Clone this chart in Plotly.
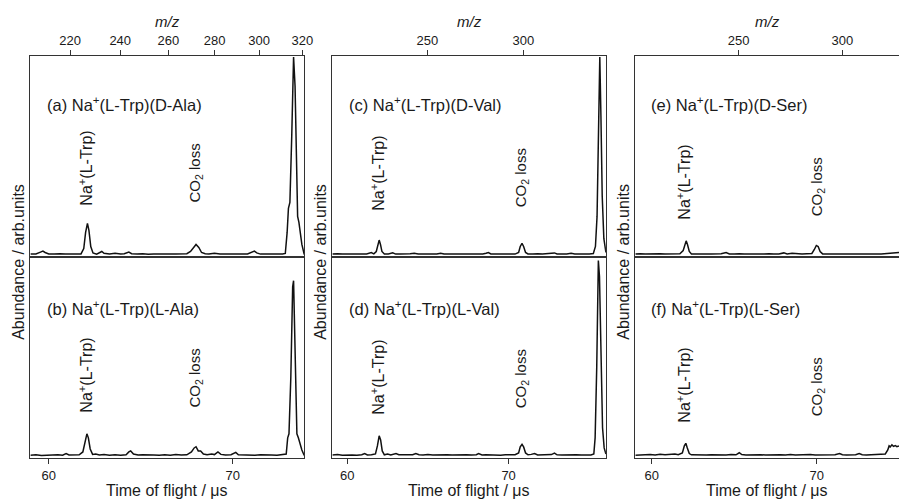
import plotly.graph_objects as go

# ---------------- data ----------------
# time-of-flight ranges (μs) of the three columns
t_ranges = [[59.0, 73.88], [59.08, 76.03], [59.0, 74.98]]
time_ticks = [60, 70]
# m/z tick labels of the top axes
mz_ticks_col1 = [220, 240, 260, 280, 300, 320]
mz_ticks_col2 = [250, 300]
mz_ticks_col3 = [250, 300]
# calibration t = a*sqrt(m/z) + b for each column
calib_a = [4.128, 3.94, 4.16]
calib_b = [-0.07, 2.67, -0.51]

a_t = [59.0, 59.3, 59.55, 59.68, 59.8, 60.0, 60.3, 60.6, 60.9, 61.2, 61.5, 61.75, 61.9, 62.0, 62.1, 62.18,
       62.28, 62.4, 62.6, 62.88, 63.0, 63.3, 63.6, 63.9, 64.1, 64.35, 64.5, 64.8, 65.1, 65.4, 65.7, 66.0,
       66.3, 66.6, 66.9, 67.2, 67.5, 67.7, 67.85, 68.0, 68.15, 68.3, 68.5, 68.7, 69.0, 69.3, 69.6, 69.9,
       70.2, 70.5, 70.8, 71.0, 71.17, 71.3, 71.5, 71.8, 72.1, 72.4, 72.7, 72.85, 72.95, 73.02, 73.1, 73.2,
       73.3, 73.38, 73.45, 73.52, 73.59, 73.65, 73.75, 73.88]
a_y = [0.012, 0.013, 0.022, 0.027, 0.02, 0.013, 0.012, 0.014, 0.012, 0.013, 0.011, 0.013, 0.04, 0.12, 0.165, 0.13,
       0.05, 0.018, 0.012, 0.025, 0.016, 0.013, 0.016, 0.012, 0.014, 0.022, 0.014, 0.012, 0.014, 0.011, 0.013, 0.012,
       0.014, 0.012, 0.013, 0.012, 0.014, 0.025, 0.045, 0.06, 0.045, 0.02, 0.014, 0.012, 0.016, 0.012, 0.013, 0.012,
       0.014, 0.012, 0.013, 0.02, 0.027, 0.018, 0.012, 0.013, 0.012, 0.013, 0.012, 0.015, 0.12, 0.24, 0.27, 0.6,
       0.995, 0.85, 0.4, 0.2, 0.17, 0.12, 0.06, 0.01]

b_t = [59.0, 59.3, 59.6, 59.9, 60.2, 60.5, 60.75, 60.94, 61.1, 61.4, 61.65, 61.85, 61.97, 62.07, 62.15, 62.25,
       62.38, 62.55, 62.75, 63.0, 63.3, 63.6, 63.9, 64.2, 64.35, 64.45, 64.6, 64.85, 65.1, 65.4, 65.7, 66.0,
       66.3, 66.6, 66.9, 67.2, 67.5, 67.75, 67.9, 68.0, 68.12, 68.25, 68.4, 68.6, 68.85, 69.0, 69.19, 69.35,
       69.6, 69.9, 70.16, 70.3, 70.6, 70.9, 71.2, 71.5, 71.8, 72.1, 72.4, 72.7, 72.9, 72.98, 73.05, 73.15,
       73.25, 73.3, 73.38, 73.48, 73.56, 73.65, 73.75, 73.88]
b_y = [0.014, 0.016, 0.013, 0.015, 0.014, 0.016, 0.014, 0.022, 0.015, 0.014, 0.016, 0.03, 0.09, 0.12, 0.1, 0.045,
       0.018, 0.02, 0.015, 0.017, 0.014, 0.016, 0.014, 0.016, 0.03, 0.035, 0.02, 0.015, 0.016, 0.014, 0.015, 0.014,
       0.016, 0.014, 0.017, 0.015, 0.016, 0.03, 0.05, 0.056, 0.035, 0.035, 0.02, 0.016, 0.02, 0.017, 0.03, 0.018,
       0.015, 0.016, 0.028, 0.016, 0.015, 0.016, 0.014, 0.016, 0.014, 0.015, 0.014, 0.016, 0.02, 0.1, 0.12, 0.4,
       0.85, 0.88, 0.5, 0.12, 0.1, 0.07, 0.04, 0.012]

c_t = [59.08, 59.4, 59.7, 60.0, 60.3, 60.6, 60.9, 61.2, 61.49, 61.65, 61.8, 61.9, 61.98, 62.06, 62.15, 62.3,
       62.55, 62.82, 63.0, 63.3, 63.6, 63.9, 64.15, 64.4, 64.7, 65.0, 65.3, 65.55, 65.79, 66.0, 66.3, 66.6,
       66.9, 67.2, 67.5, 67.8, 68.1, 68.4, 68.6, 68.75, 68.9, 69.2, 69.5, 69.8, 70.1, 70.4, 70.62, 70.72,
       70.83, 70.93, 71.05, 71.2, 71.5, 71.8, 72.1, 72.4, 72.65, 72.84, 73.0, 73.3, 73.6, 73.87, 74.1, 74.4,
       74.7, 75.0, 75.25, 75.38, 75.48, 75.58, 75.65, 75.72, 75.8, 75.9, 76.03]
c_y = [0.012, 0.014, 0.012, 0.013, 0.011, 0.013, 0.012, 0.013, 0.02, 0.013, 0.025, 0.065, 0.082, 0.06, 0.025, 0.012,
       0.013, 0.018, 0.012, 0.013, 0.012, 0.014, 0.016, 0.012, 0.013, 0.012, 0.013, 0.012, 0.016, 0.012, 0.013, 0.012,
       0.013, 0.012, 0.013, 0.012, 0.013, 0.012, 0.016, 0.02, 0.013, 0.012, 0.013, 0.012, 0.013, 0.012, 0.02, 0.05,
       0.065, 0.05, 0.02, 0.013, 0.012, 0.014, 0.012, 0.013, 0.014, 0.018, 0.013, 0.012, 0.013, 0.016, 0.012, 0.013,
       0.012, 0.013, 0.015, 0.05, 0.2, 0.8, 0.995, 0.7, 0.3, 0.09, 0.02]

d_t = [59.08, 59.4, 59.7, 60.0, 60.3, 60.6, 60.9, 61.08, 61.25, 61.5, 61.75, 61.87, 61.98, 62.07, 62.17, 62.3,
       62.5, 62.7, 63.02, 63.2, 63.5, 63.8, 64.05, 64.25, 64.45, 64.7, 65.0, 65.3, 65.6, 65.9, 66.2, 66.5,
       66.8, 67.1, 67.4, 67.7, 68.0, 68.14, 68.35, 68.6, 68.9, 69.2, 69.5, 69.8, 70.1, 70.4, 70.62, 70.72,
       70.83, 70.93, 71.05, 71.2, 71.4, 71.61, 71.8, 72.1, 72.4, 72.65, 72.84, 73.0, 73.3, 73.6, 73.9, 74.2,
       74.5, 74.8, 75.1, 75.28, 75.36, 75.46, 75.56, 75.63, 75.72, 75.82, 75.92, 76.03]
d_y = [0.015, 0.017, 0.014, 0.016, 0.015, 0.014, 0.016, 0.022, 0.015, 0.016, 0.02, 0.06, 0.11, 0.09, 0.035, 0.016,
       0.02, 0.015, 0.022, 0.016, 0.015, 0.017, 0.016, 0.022, 0.016, 0.015, 0.017, 0.015, 0.016, 0.014, 0.016, 0.015,
       0.016, 0.014, 0.016, 0.015, 0.016, 0.022, 0.015, 0.016, 0.015, 0.016, 0.014, 0.016, 0.015, 0.016, 0.025, 0.055,
       0.068, 0.055, 0.025, 0.016, 0.018, 0.022, 0.015, 0.016, 0.015, 0.017, 0.024, 0.016, 0.015, 0.016, 0.015, 0.016,
       0.015, 0.016, 0.015, 0.02, 0.1, 0.45, 0.98, 0.9, 0.45, 0.15, 0.05, 0.02]

e_t = [59.0, 59.3, 59.6, 59.9, 60.2, 60.5, 60.8, 61.1, 61.4, 61.7, 61.9, 62.0, 62.08, 62.16, 62.27, 62.4,
       62.7, 63.0, 63.3, 63.6, 63.9, 64.2, 64.5, 64.7, 65.0, 65.3, 65.6, 65.9, 66.2, 66.5, 66.8, 67.1,
       67.4, 67.7, 68.0, 68.2, 68.5, 68.8, 69.1, 69.4, 69.7, 69.85, 69.97, 70.08, 70.2, 70.35, 70.6, 70.9,
       71.2, 71.5, 71.8, 72.1, 72.4, 72.7, 73.0, 73.3, 73.6, 73.9, 74.2, 74.5, 74.8, 74.98]
e_y = [0.012, 0.014, 0.012, 0.013, 0.012, 0.014, 0.012, 0.013, 0.012, 0.014, 0.03, 0.065, 0.078, 0.06, 0.025, 0.013,
       0.012, 0.014, 0.012, 0.013, 0.012, 0.014, 0.02, 0.013, 0.012, 0.014, 0.012, 0.013, 0.012, 0.013, 0.012, 0.014,
       0.012, 0.013, 0.018, 0.013, 0.016, 0.013, 0.012, 0.014, 0.015, 0.035, 0.055, 0.05, 0.025, 0.013, 0.012, 0.014,
       0.012, 0.013, 0.012, 0.014, 0.012, 0.013, 0.012, 0.014, 0.012, 0.013, 0.014, 0.015, 0.018, 0.02]

f_t = [59.0, 59.3, 59.6, 59.9, 60.2, 60.5, 60.8, 61.1, 61.4, 61.6, 61.85, 61.97, 62.06, 62.15, 62.27, 62.4,
       62.7, 63.0, 63.3, 63.6, 63.9, 64.2, 64.5, 64.8, 65.1, 65.3, 65.45, 65.7, 66.0, 66.3, 66.6, 66.9,
       67.2, 67.5, 67.8, 68.1, 68.4, 68.7, 69.0, 69.3, 69.6, 69.9, 70.2, 70.5, 70.8, 71.1, 71.38, 71.55,
       71.8, 72.1, 72.35, 72.57, 72.75, 73.0, 73.3, 73.6, 73.9, 74.15, 74.3, 74.38, 74.45, 74.55, 74.65, 74.75,
       74.85, 74.98]
f_y = [0.014, 0.016, 0.015, 0.017, 0.015, 0.018, 0.016, 0.017, 0.02, 0.016, 0.025, 0.06, 0.073, 0.05, 0.022, 0.016,
       0.015, 0.017, 0.015, 0.016, 0.015, 0.017, 0.015, 0.017, 0.016, 0.026, 0.017, 0.015, 0.016, 0.014, 0.016, 0.015,
       0.016, 0.014, 0.016, 0.015, 0.017, 0.015, 0.016, 0.015, 0.017, 0.015, 0.016, 0.015, 0.017, 0.016, 0.022, 0.016,
       0.015, 0.017, 0.016, 0.022, 0.016, 0.015, 0.017, 0.016, 0.018, 0.02, 0.04, 0.06, 0.055, 0.065, 0.058, 0.062,
       0.056, 0.06]

panel_titles = ["(a) Na<sup>+</sup>(L-Trp)(D-Ala)", "(b) Na<sup>+</sup>(L-Trp)(L-Ala)",
                "(c) Na<sup>+</sup>(L-Trp)(D-Val)", "(d) Na<sup>+</sup>(L-Trp)(L-Val)",
                "(e) Na<sup>+</sup>(L-Trp)(D-Ser)", "(f) Na<sup>+</sup>(L-Trp)(L-Ser)"]
peak_label_na = "Na<sup>+</sup>(L-Trp)"
peak_label_co2 = "CO<sub>2</sub> loss"

# ---------------- figure ----------------
W, H = 908, 499
FONT = "Arial, 'Liberation Sans', Helvetica, sans-serif"
TXT = "#1a1a1a"
LINE = "#333333"

def px_x(p):
    return p / W

def px_y(p):
    return 1 - p / H

col_dom = [[px_x(30.7), px_x(307.3)], [px_x(335.7), px_x(612.0)], [px_x(641.7), 1.0]]
row_dom = [[px_y(256.5), px_y(56.0)], [px_y(458.0), px_y(256.5)]]

traces_t = [a_t, b_t, c_t, d_t, e_t, f_t]
traces_y = [a_y, b_y, c_y, d_y, e_y, f_y]
mz_ticks = [mz_ticks_col1, mz_ticks_col2, mz_ticks_col3]

fig = go.Figure()
layout = dict(width=W, height=H, margin=dict(l=0, r=0, t=0, b=0),
              paper_bgcolor="white", plot_bgcolor="white", showlegend=False,
              font=dict(family=FONT, color=TXT, size=13))

for i in range(6):
    col, row = i // 2, i % 2
    n = i + 1
    xa = "xaxis" if n == 1 else f"xaxis{n}"
    ya = "yaxis" if n == 1 else f"yaxis{n}"
    xr = "x" if n == 1 else f"x{n}"
    yr = "y" if n == 1 else f"y{n}"
    fig.add_trace(go.Scatter(x=traces_t[i], y=traces_y[i], mode="lines",
                             line=dict(color="#111111", width=1.5),
                             xaxis=xr, yaxis=yr, hoverinfo="skip"))
    common = dict(domain=col_dom[col], range=t_ranges[col], anchor=yr,
                  showline=True, linecolor=LINE, linewidth=1, mirror=True,
                  showgrid=False, zeroline=False, ticks="outside", ticklen=5,
                  tickcolor=LINE, tickfont=dict(size=13, color=TXT))
    if row == 0:
        a, b = calib_a[col], calib_b[col]
        tv = [a * (m ** 0.5) + b for m in mz_ticks[col]]
        layout[xa] = dict(common, side="top", tickmode="array", tickvals=tv,
                          ticktext=[str(m) for m in mz_ticks[col]])
    else:
        layout[xa] = dict(common, side="bottom", tickmode="array", tickvals=time_ticks,
                          ticktext=[str(v) for v in time_ticks])
    layout[ya] = dict(domain=row_dom[row], range=[0, 1.0], anchor=xr,
                      showline=True, linecolor=LINE, linewidth=1,
                      mirror=(col != 2), showgrid=False, zeroline=False,
                      showticklabels=False, ticks="")

fig.update_layout(**layout)

ann = []
# panel titles
title_x = [45, 350, 655]
title_y = [104, 308]
for i in range(6):
    col, row = i // 2, i % 2
    ann.append(dict(x=px_x(title_x[col]), y=px_y(title_y[row]), xref="paper", yref="paper",
                    text=panel_titles[i], showarrow=False, xanchor="left", yanchor="middle",
                    font=dict(size=16.5, color=TXT, family=FONT)))

# rotated peak labels  (x centre px, bottom px)
na_pos = [(86, 208), (86, 415), (381, 213), (381, 417), (690, 222), (690, 425)]
co2_pos = [(197, 205), (197, 410), (527, 209), (527, 410), (826, 218), (826, 418)]
for (x, y) in na_pos:
    ann.append(dict(x=px_x(x), y=px_y(y), xref="paper", yref="paper", text=peak_label_na,
                    showarrow=False, textangle=-90, xanchor="center", yanchor="bottom",
                    font=dict(size=16, color=TXT, family=FONT)))
for (x, y) in co2_pos:
    ann.append(dict(x=px_x(x), y=px_y(y), xref="paper", yref="paper", text=peak_label_co2,
                    showarrow=False, textangle=-90, xanchor="center", yanchor="bottom",
                    font=dict(size=15, color=TXT, family=FONT)))

# axis titles
for col in range(3):
    cx = (col_dom[col][0] + col_dom[col][1]) / 2
    ann.append(dict(x=cx, y=px_y(490), xref="paper", yref="paper", text="Time of flight / μs",
                    showarrow=False, xanchor="center", yanchor="middle",
                    font=dict(size=16, color=TXT, family=FONT)))
    ann.append(dict(x=cx, y=px_y(21), xref="paper", yref="paper", text="<i>m/z</i>",
                    showarrow=False, xanchor="center", yanchor="middle",
                    font=dict(size=15, color=TXT, family=FONT)))
for x in [18, 323, 629]:
    ann.append(dict(x=px_x(x), y=px_y(262), xref="paper", yref="paper", text="Abundance / arb.units",
                    showarrow=False, textangle=-90, xanchor="center", yanchor="middle",
                    font=dict(size=16, color=TXT, family=FONT)))

fig.update_layout(annotations=ann)
fig.write_html("out.html", config={"displayModeBar": False},
               post_script="document.body.style.margin='0px';")
